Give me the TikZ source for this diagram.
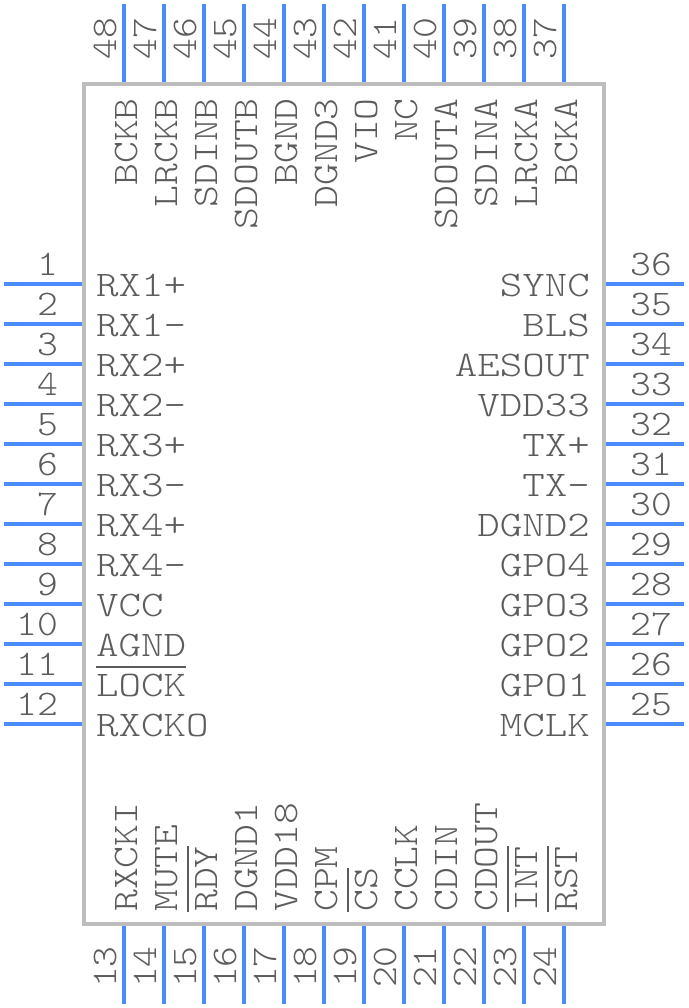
\documentclass[tikz,border=0pt]{standalone}
\usepackage{fontspec}
\newfontfamily\pinfont[FakeStretch=1.19]{Latin Modern Mono Light}
\newfontfamily\uprightfont[FakeStretch=1.155]{Latin Modern Mono Light}
\newfontfamily\numfont[FakeStretch=1.1]{Latin Modern Mono Light}
\definecolor{bodygray}{HTML}{BDBDBD}
\definecolor{pinblue}{HTML}{4A8CFF}
\definecolor{textgray}{HTML}{5C5C5C}
\newcommand{\ovbar}[1]{\vbox{\hrule height 2pt\kern 6pt\hbox{#1}}}
\tikzset{
  chip/.style = {shape=rectangle, draw=bodygray, line width=4pt, inner sep=0pt, minimum width=520pt, minimum height=840pt},
  lead/.style = {draw=pinblue, line width=4pt},
  pinname/.style = {inner sep=0pt, text=textgray, font=\pinfont\fontsize{36}{36}\selectfont},
  upname/.style = {inner sep=0pt, rotate=90, text=textgray, font=\uprightfont\fontsize{36}{36}\selectfont},
  pinnum/.style = {inner sep=0pt, text=textgray, font=\numfont\fontsize{36}{36}\selectfont}
}
\begin{document}
\begin{tikzpicture}[x=1pt, y=-1pt]
  \useasboundingbox (0,0) rectangle (688,1008);
  \node[chip] (chip) at (344,504) {};
  % left side
  \foreach \n/\name [count=\i from 0] in {1/RX1+,2/RX1-,3/RX2+,4/RX2-,5/RX3+,6/RX3-,7/RX4+,8/RX4-,9/VCC,10/AGND,11/\ovbar{LOCK},12/RXCKO} {
    \coordinate (end\n) at (4,284+40*\i);
    \draw[lead] (chip.west |- end\n) -- (end\n);
    \node[pinnum, anchor=base east] (num\n) at (58,275+40*\i) {\n};
    \node[pinname, anchor=base west] (name\n) at (96,296+40*\i) {\name};
  }
  % bottom side
  \foreach \n/\name [count=\i from 0] in {13/RXCKI,14/MUTE,15/\ovbar{RDY},16/DGND1,17/VDD18,18/CPM,19/\ovbar{CS},20/CCLK,21/CDIN,22/CDOUT,23/\ovbar{INT},24/\ovbar{RST}} {
    \coordinate (end\n) at (124+40*\i,1004);
    \draw[lead] (end\n |- chip.south) -- (end\n);
    \node[pinnum, anchor=base west, rotate=90] (num\n) at (116+40*\i,988) {\n};
    \node[upname, anchor=base west] (name\n) at (137+40*\i,912) {\name};
  }
  % right side
  \foreach \n/\name [count=\i from 0] in {25/MCLK,26/GPO1,27/GPO2,28/GPO3,29/GPO4,30/DGND2,31/TX-,32/TX+,33/VDD33,34/AESOUT,35/BLS,36/SYNC} {
    \coordinate (end\n) at (684,724-40*\i);
    \draw[lead] (chip.east |- end\n) -- (end\n);
    \node[pinnum, anchor=base west] (num\n) at (630,715-40*\i) {\n};
    \node[pinname, anchor=base east] (name\n) at (590,736-40*\i) {\name};
  }
  % top side
  \foreach \n/\name [count=\i from 0] in {37/BCKA,38/LRCKA,39/SDINA,40/SDOUTA,41/NC,42/VIO,43/DGND3,44/BGND,45/SDOUTB,46/SDINB,47/LRCKB,48/BCKB} {
    \coordinate (end\n) at (564-40*\i,4);
    \draw[lead] (end\n |- chip.north) -- (end\n);
    \node[pinnum, anchor=base east, rotate=90] (num\n) at (556-40*\i,18) {\n};
    \node[upname, anchor=base east] (name\n) at (577-40*\i,98) {\name};
  }
\end{tikzpicture}
\end{document}
